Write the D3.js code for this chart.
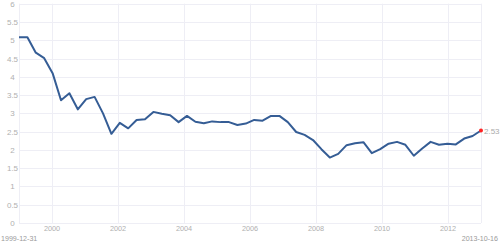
<!DOCTYPE html>
<html><head><meta charset="utf-8">
<script src="https://cdn.jsdelivr.net/npm/d3@7"></script>
<style>body{margin:0;background:#fff}svg{display:block;font-family:"Liberation Sans",Arial,sans-serif}</style>
</head><body><svg id="c" width="500" height="246"></svg>
<script>
const values = [5.08,5.08,4.66,4.51,4.10,3.36,3.55,3.11,3.39,3.45,3.00,2.44,2.74,2.59,2.82,2.84,3.04,2.99,2.95,2.76,2.93,2.77,2.73,2.78,2.76,2.76,2.68,2.72,2.82,2.80,2.93,2.93,2.76,2.49,2.41,2.27,2.02,1.79,1.89,2.13,2.18,2.21,1.91,2.02,2.17,2.22,2.14,1.84,2.04,2.22,2.14,2.17,2.15,2.31,2.38,2.53];
const yearDomain = [1999, 2013];
const xTicks = [2000, 2002, 2004, 2006, 2008, 2010, 2012];
const yTicks = [0,0.5,1,1.5,2,2.5,3,3.5,4,4.5,5,5.5,6];
const startLabel = "1999-12-31";
const endLabel = "2013-10-16";
const lastLabel = "2.53";

const svg = d3.select("#c");
const L = 19, R = 481, T = 3.7, B = 223;
const xi = d3.scaleLinear().domain([0, values.length - 1]).range([L, R]);
const xy = d3.scaleLinear().domain(yearDomain).range([L, R]);
const y = d3.scaleLinear().domain([0, 6]).range([B, T]);
const grid = "#eeeef5";

svg.append("g").selectAll("line").data(yTicks).join("line")
  .attr("x1", L).attr("x2", R).attr("y1", d => Math.round(y(d)) + 0.5).attr("y2", d => Math.round(y(d)) + 0.5)
  .attr("stroke", grid).attr("stroke-width", 1);
svg.append("g").selectAll("line").data(xTicks.concat(yearDomain)).join("line")
  .attr("x1", d => Math.round(xy(d)) + 0.5).attr("x2", d => Math.round(xy(d)) + 0.5).attr("y1", T).attr("y2", B)
  .attr("stroke", grid).attr("stroke-width", 1);

svg.append("g").selectAll("text").data(yTicks).join("text")
  .attr("x", 12.5).attr("y", d => y(d) + 3).attr("text-anchor", "middle")
  .attr("font-size", 8).attr("fill", "#b0b0b0").text(d => d);
svg.append("g").selectAll("text").data(xTicks).join("text")
  .attr("x", d => xy(d)).attr("y", 231).attr("text-anchor", "middle")
  .attr("font-size", 7.3).attr("fill", "#b0b0b0").text(d => d);

svg.append("text").attr("x", 1).attr("y", 241).attr("font-size", 7.1).attr("fill", "#9a9a9a").text(startLabel);
svg.append("text").attr("x", 498).attr("y", 241).attr("text-anchor", "end").attr("font-size", 7.1).attr("fill", "#9a9a9a").text(endLabel);

svg.append("path").datum(values)
  .attr("d", d3.line().x((d, i) => xi(i)).y(d => y(d)))
  .attr("fill", "none").attr("stroke", "#355d95").attr("stroke-width", 2).attr("stroke-linejoin", "round");

const n = values.length - 1;
svg.append("circle").attr("cx", xi(n)).attr("cy", y(values[n])).attr("r", 2).attr("fill", "#ff2222");
svg.append("text").attr("x", 484).attr("y", y(values[n]) + 3).attr("font-size", 8).attr("fill", "#aaaaaa").text(lastLabel);
</script></body></html>
